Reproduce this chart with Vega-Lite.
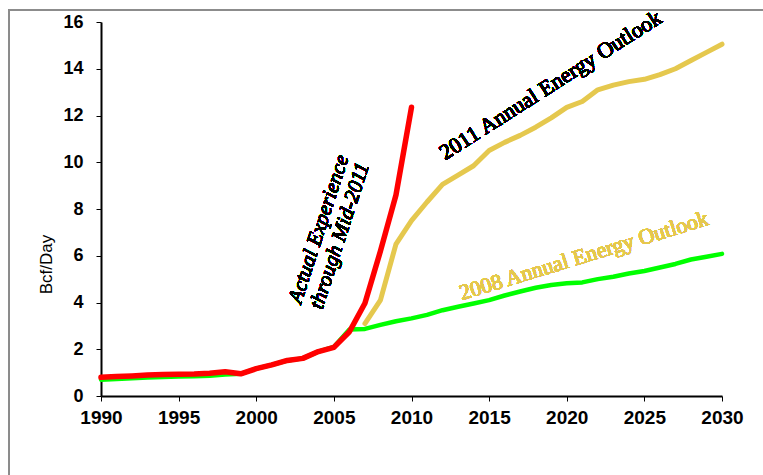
{
  "$schema": "https://vega.github.io/schema/vega-lite/v6.json",
  "width": 621,
  "height": 374,
  "autosize": {"type": "none"},
  "padding": {"left": 101, "top": 22, "right": 41, "bottom": 79},
  "background": "white",
  "config": {
    "view": {"stroke": null},
    "font": "Liberation Sans"
  },
  "datasets": {
    "gas": [
      {"series": "Actual", "year": 1990, "value": 0.8},
      {"series": "Actual", "year": 1991, "value": 0.83},
      {"series": "Actual", "year": 1992, "value": 0.86},
      {"series": "Actual", "year": 1993, "value": 0.9},
      {"series": "Actual", "year": 1994, "value": 0.92},
      {"series": "Actual", "year": 1995, "value": 0.93},
      {"series": "Actual", "year": 1996, "value": 0.94},
      {"series": "Actual", "year": 1997, "value": 0.97},
      {"series": "Actual", "year": 1998, "value": 1.04},
      {"series": "Actual", "year": 1999, "value": 0.95},
      {"series": "Actual", "year": 2000, "value": 1.17},
      {"series": "Actual", "year": 2001, "value": 1.33},
      {"series": "Actual", "year": 2002, "value": 1.52},
      {"series": "Actual", "year": 2003, "value": 1.61},
      {"series": "Actual", "year": 2004, "value": 1.9},
      {"series": "Actual", "year": 2005, "value": 2.08},
      {"series": "Actual", "year": 2006, "value": 2.75},
      {"series": "Actual", "year": 2007, "value": 3.97},
      {"series": "Actual", "year": 2008, "value": 6.2},
      {"series": "Actual", "year": 2009, "value": 8.6},
      {"series": "Actual", "year": 2010, "value": 12.35},

      {"series": "AEO2008", "year": 1990, "value": 0.7},
      {"series": "AEO2008", "year": 1991, "value": 0.73},
      {"series": "AEO2008", "year": 1992, "value": 0.76},
      {"series": "AEO2008", "year": 1993, "value": 0.79},
      {"series": "AEO2008", "year": 1994, "value": 0.81},
      {"series": "AEO2008", "year": 1995, "value": 0.83},
      {"series": "AEO2008", "year": 1996, "value": 0.84},
      {"series": "AEO2008", "year": 1997, "value": 0.87},
      {"series": "AEO2008", "year": 1998, "value": 0.92},
      {"series": "AEO2008", "year": 1999, "value": 0.95},
      {"series": "AEO2008", "year": 2000, "value": 1.17},
      {"series": "AEO2008", "year": 2001, "value": 1.33},
      {"series": "AEO2008", "year": 2002, "value": 1.52},
      {"series": "AEO2008", "year": 2003, "value": 1.61},
      {"series": "AEO2008", "year": 2004, "value": 1.9},
      {"series": "AEO2008", "year": 2005, "value": 2.1},
      {"series": "AEO2008", "year": 2006, "value": 2.85},
      {"series": "AEO2008", "year": 2007, "value": 2.87},
      {"series": "AEO2008", "year": 2008, "value": 3.04},
      {"series": "AEO2008", "year": 2009, "value": 3.2},
      {"series": "AEO2008", "year": 2010, "value": 3.32},
      {"series": "AEO2008", "year": 2011, "value": 3.47},
      {"series": "AEO2008", "year": 2012, "value": 3.67},
      {"series": "AEO2008", "year": 2013, "value": 3.82},
      {"series": "AEO2008", "year": 2014, "value": 3.96},
      {"series": "AEO2008", "year": 2015, "value": 4.1},
      {"series": "AEO2008", "year": 2016, "value": 4.3},
      {"series": "AEO2008", "year": 2017, "value": 4.47},
      {"series": "AEO2008", "year": 2018, "value": 4.63},
      {"series": "AEO2008", "year": 2019, "value": 4.75},
      {"series": "AEO2008", "year": 2020, "value": 4.82},
      {"series": "AEO2008", "year": 2021, "value": 4.86},
      {"series": "AEO2008", "year": 2022, "value": 5.0},
      {"series": "AEO2008", "year": 2023, "value": 5.1},
      {"series": "AEO2008", "year": 2024, "value": 5.24},
      {"series": "AEO2008", "year": 2025, "value": 5.35},
      {"series": "AEO2008", "year": 2026, "value": 5.5},
      {"series": "AEO2008", "year": 2027, "value": 5.65},
      {"series": "AEO2008", "year": 2028, "value": 5.84},
      {"series": "AEO2008", "year": 2029, "value": 5.96},
      {"series": "AEO2008", "year": 2030, "value": 6.08},

      {"series": "AEO2011", "year": 2007, "value": 3.1},
      {"series": "AEO2011", "year": 2008, "value": 4.1},
      {"series": "AEO2011", "year": 2009, "value": 6.5},
      {"series": "AEO2011", "year": 2010, "value": 7.5},
      {"series": "AEO2011", "year": 2011, "value": 8.3},
      {"series": "AEO2011", "year": 2012, "value": 9.05},
      {"series": "AEO2011", "year": 2013, "value": 9.45},
      {"series": "AEO2011", "year": 2014, "value": 9.85},
      {"series": "AEO2011", "year": 2015, "value": 10.5},
      {"series": "AEO2011", "year": 2016, "value": 10.85},
      {"series": "AEO2011", "year": 2017, "value": 11.15},
      {"series": "AEO2011", "year": 2018, "value": 11.5},
      {"series": "AEO2011", "year": 2019, "value": 11.9},
      {"series": "AEO2011", "year": 2020, "value": 12.35},
      {"series": "AEO2011", "year": 2021, "value": 12.6},
      {"series": "AEO2011", "year": 2022, "value": 13.1},
      {"series": "AEO2011", "year": 2023, "value": 13.3},
      {"series": "AEO2011", "year": 2024, "value": 13.45},
      {"series": "AEO2011", "year": 2025, "value": 13.55},
      {"series": "AEO2011", "year": 2026, "value": 13.75},
      {"series": "AEO2011", "year": 2027, "value": 14.0},
      {"series": "AEO2011", "year": 2028, "value": 14.35},
      {"series": "AEO2011", "year": 2029, "value": 14.7},
      {"series": "AEO2011", "year": 2030, "value": 15.05}
    ]
  },
  "data": {"name": "gas"},
  "encoding": {
    "x": {
      "field": "year",
      "type": "quantitative",
      "scale": {"domain": [1990, 2030], "nice": false, "zero": false},
      "axis": {
        "title": null,
        "grid": false,
        "values": [1990, 1995, 2000, 2005, 2010, 2015, 2020, 2025, 2030],
        "format": "d",
        "labelFlush": false,
        "labelOverlap": false,
        "domainColor": "black",
        "domainWidth": 2,
        "tickColor": "black",
        "tickWidth": 1,
        "tickSize": 5,
        "labelColor": "black",
        "labelFont": "Liberation Sans",
        "labelFontWeight": "bold",
        "labelFontSize": 19,
        "labelPadding": 7
      }
    },
    "y": {
      "field": "value",
      "type": "quantitative",
      "scale": {"domain": [0, 16], "nice": false},
      "axis": {
        "title": "Bcf/Day",
        "grid": false,
        "values": [0, 2, 4, 6, 8, 10, 12, 14, 16],
        "labelFlush": false,
        "labelOverlap": false,
        "domainColor": "black",
        "domainWidth": 2,
        "tickColor": "black",
        "tickWidth": 1,
        "tickSize": 5,
        "labelColor": "black",
        "labelFont": "Liberation Sans",
        "labelFontWeight": "bold",
        "labelFontSize": 18,
        "labelPadding": 13,
        "titleFont": "Liberation Sans",
        "titleFontWeight": "normal",
        "titleFontSize": 17,
        "titleColor": "black",
        "titleX": -46,
        "titleY": 242
      }
    }
  },
  "layer": [
    {
      "transform": [{"filter": "datum.series === 'AEO2008'"}],
      "mark": {"type": "line", "color": "#00ff00", "strokeWidth": 4.5, "strokeJoin": "round", "strokeCap": "round"}
    },
    {
      "transform": [{"filter": "datum.series === 'AEO2011'"}],
      "mark": {"type": "line", "color": "#e5c84e", "strokeWidth": 5, "strokeJoin": "round", "strokeCap": "round"}
    },
    {
      "transform": [{"filter": "datum.series === 'Actual'"}],
      "mark": {"type": "line", "color": "#ff0000", "strokeWidth": 5.5, "strokeJoin": "round", "strokeCap": "round"}
    },
    {
      "mark": {
        "type": "text",
        "text": ["Actual Experience", "through Mid-2011"],
        "font": "Liberation Serif",
        "fontStyle": "italic",
        "fontSize": 21,
        "lineHeight": 22,
        "angle": 288,
        "align": "center",
        "baseline": "middle",
        "color": "black"
      },
      "encoding": {
        "x": {"datum": 2004.05, "type": "quantitative"},
        "y": {"datum": 7.14, "type": "quantitative"}
      }
    },
    {
      "mark": {
        "type": "text",
        "text": "2011 Annual Energy Outlook",
        "font": "Liberation Serif",
        "fontSize": 22,
        "angle": 327.5,
        "align": "center",
        "baseline": "middle",
        "color": "black"
      },
      "encoding": {
        "x": {"datum": 2018.95, "type": "quantitative"},
        "y": {"datum": 13.3, "type": "quantitative"}
      }
    },
    {
      "mark": {
        "type": "text",
        "text": "2008 Annual Energy Outlook",
        "font": "Liberation Serif",
        "fontSize": 22,
        "angle": 343,
        "align": "center",
        "baseline": "middle",
        "color": "#e5c84e"
      },
      "encoding": {
        "x": {"datum": 2021.1, "type": "quantitative"},
        "y": {"datum": 6.0, "type": "quantitative"}
      }
    },
    {
      "mark": {"type": "rule", "color": "#8c8c8c", "strokeWidth": 1.5},
      "encoding": {
        "x": {"datum": 1984.07, "type": "quantitative"},
        "x2": {"datum": 2032.7},
        "y": {"datum": 16.51, "type": "quantitative"}
      }
    },
    {
      "mark": {"type": "rule", "color": "#8c8c8c", "strokeWidth": 1.5},
      "encoding": {
        "x": {"datum": 1984.07, "type": "quantitative"},
        "y": {"datum": 16.51, "type": "quantitative"},
        "y2": {"datum": -3.5}
      }
    }
  ]
}
